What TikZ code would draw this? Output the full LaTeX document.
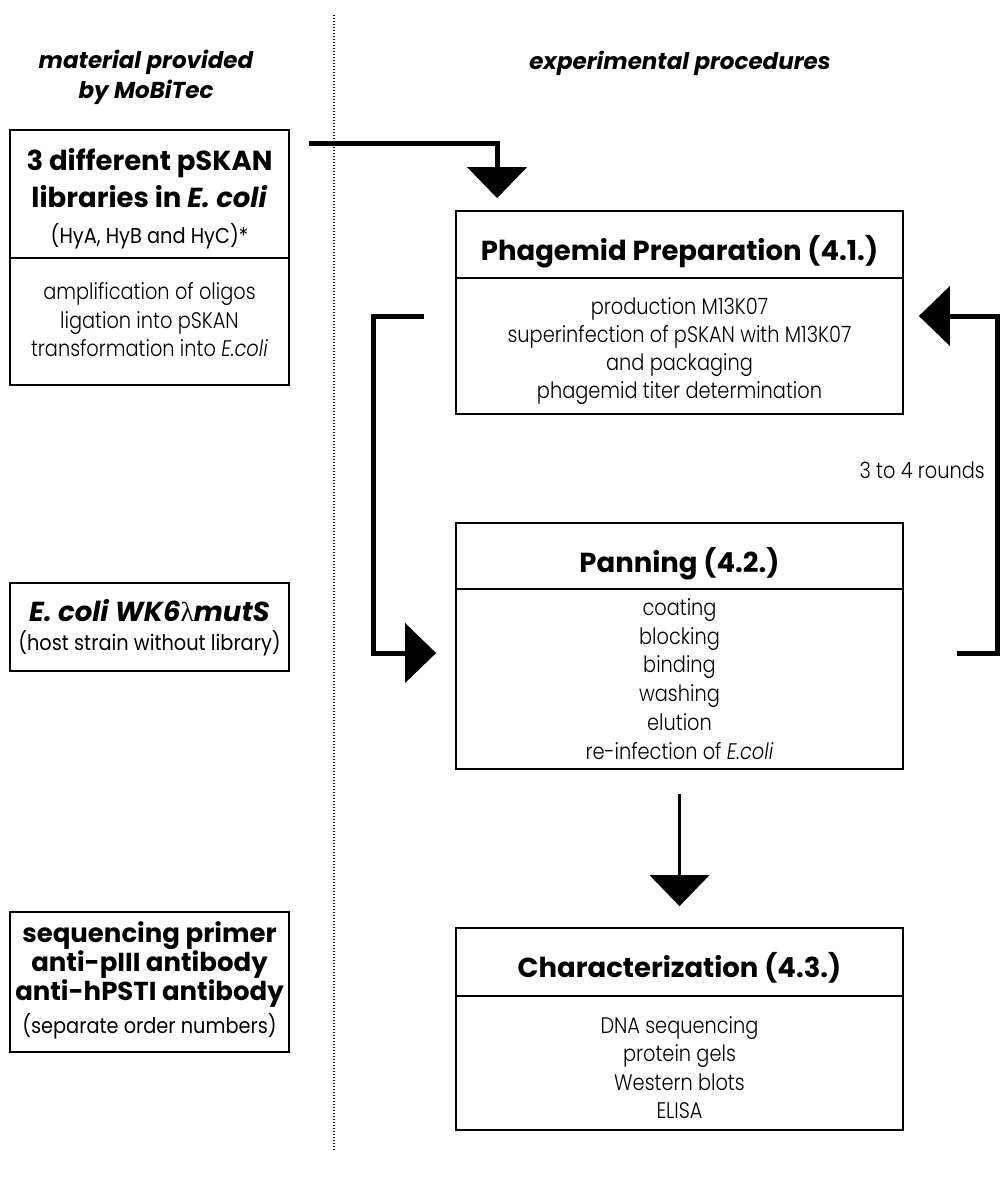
\documentclass[tikz,border=0pt]{standalone}
\usepackage{fontspec}
\setmainfont{Poppins}[FakeStretch=0.86, UprightFont=* Light, ItalicFont=* Light Italic, BoldFont=* Bold, BoldItalicFont=* Bold Italic]
\newfontfamily\bookf{Poppins}[FakeStretch=0.9]
\newfontfamily\heavyf{Poppins}[UprightFont=* Bold, ItalicFont=* Bold Italic]
\newfontfamily\greekf{Liberation Serif}
\usetikzlibrary{arrows.meta,calc}
\newcommand\myttl{\fontsize{27.5}{30}\selectfont\heavyf}
\newcommand\mysmttl{\fontsize{26}{29}\selectfont\heavyf}
\newcommand\mysub{\fontsize{21.5}{26}\selectfont\bookf}
\newcommand\mybody{\fontsize{22.5}{28}\selectfont\mdseries}
\newcommand\myhead{\fontsize{23}{29}\selectfont\heavyf\itshape}
\begin{document}
\begin{tikzpicture}[x=1pt,y=-1pt,
  box/.style={draw, line width=1.8pt, inner sep=0, minimum width=279pt},
  rbox/.style={draw, line width=1.8pt, inner sep=0, minimum width=447pt},
  divl/.style={line width=1.8pt},
  txt/.style={inner sep=0, anchor=base},
  ttl/.style={txt, font=\myttl},
  sttl/.style={txt, font=\mysmttl},
  sub/.style={txt, font=\mysub},
  bdy/.style={txt, font=\mybody},
  hd/.style={txt, font=\myhead},
  conn/.style={line width=5pt, line join=miter, -{Triangle[width=60pt,length=31pt,line width=0pt]}}
]
\useasboundingbox (0,0) rectangle (1000,1179);
% separator
\coordinate (dtop) at (334,15);
\coordinate (dbot) at (334,1151);
\draw[line width=1.3pt, dash pattern=on 1.3pt off 1.7pt] (dtop) -- (dbot);

% headers
\node[hd] (hdrL1) at (146,68) {material provided};
\node[hd] (hdrL2) at (146,98) {by MoBiTec};
\node[hd] (hdrR) at (680,69) {experimental procedures};

% left boxes
\node[box, minimum height=255pt] (lib) at (149.5,257.5) {};
\draw[divl] (lib.west |- 0,258) -- (lib.east |- 0,258);
\node[ttl] (libT1) at (149.5,170) {3 different pSKAN};
\node[ttl] (libT2) at (149.5,207) {libraries in \textit{E. coli}};
\node[sub] (libS) at (149.5,243) {(HyA, HyB and HyC)*};
\node[bdy] (libB1) at (149.5,299) {amplification of oligos};
\node[bdy] (libB2) at (149.5,328) {ligation into pSKAN};
\node[bdy] (libB3) at (149.5,356) {transformation into \textit{E.coli}};

\node[box, minimum height=88pt] (host) at (149.5,627) {};
\node[ttl] (hostT) at (149.5,621) {\itshape E. coli WK6{\greekf\mdseries\upshape λ}mutS};
\node[sub] (hostS) at (149.5,650) {(host strain without library)};

\node[box, minimum height=140pt] (misc) at (149.5,982) {};
\node[sttl] (misc1) at (149.5,942) {sequencing primer};
\node[sttl] (misc2) at (149.5,971) {anti-pIII antibody};
\node[sttl] (misc3) at (149.5,1000) {anti-hPSTI antibody};
\node[sub] (miscS) at (149.5,1033) {(separate order numbers)};

% right boxes
\node[rbox, minimum height=203pt] (phag) at (679.5,312.5) {};
\draw[divl] (phag.west |- 0,278) -- (phag.east |- 0,278);
\node[ttl] (phagT) at (679.5,260) {Phagemid Preparation (4.1.)};
\node[bdy] (phagB1) at (679.5,314) {production M13K07};
\node[bdy] (phagB2) at (679.5,342) {superinfection of pSKAN with M13K07};
\node[bdy] (phagB3) at (679.5,370) {and packaging};
\node[bdy] (phagB4) at (679.5,398) {phagemid titer determination};

\node[rbox, minimum height=246pt] (pan) at (679.5,646) {};
\draw[divl] (pan.west |- 0,589) -- (pan.east |- 0,589);
\node[ttl] (panT) at (679.5,572) {Panning (4.2.)};
\node[bdy] (panB1) at (679.5,615) {coating};
\node[bdy] (panB2) at (679.5,644) {blocking};
\node[bdy] (panB3) at (679.5,672) {binding};
\node[bdy] (panB4) at (679.5,701) {washing};
\node[bdy] (panB5) at (679.5,730) {elution};
\node[bdy] (panB6) at (679.5,759) {re-infection of \textit{E.coli}};

\node[rbox, minimum height=202pt] (char) at (679.5,1029) {};
\draw[divl] (char.west |- 0,996) -- (char.east |- 0,996);
\node[ttl] (charT) at (679.5,977) {Characterization (4.3.)};
\node[bdy] (charB1) at (679.5,1033) {DNA sequencing};
\node[bdy] (charB2) at (679.5,1061) {protein gels};
\node[bdy] (charB3) at (679.5,1090) {Western blots};
\node[bdy] (charB4) at (679.5,1118) {ELISA};

\node[bdy, anchor=base east] (rounds) at (985,478) {3 to 4 rounds};

% connectors
\coordinate (a1s) at (309,143);
\coordinate (a1e) at ($(phag.north west)+(42,-12)$);
\draw[conn] (a1s) -| (a1e);

\coordinate (l1s) at (424,316);
\coordinate (l1c) at (373,316);
\coordinate (l1e) at ($(pan.west)+(-19,7)$);
\draw[conn] (l1s) -- (l1c) |- (l1e);

\coordinate (r1s) at (957,653);
\coordinate (r1c) at (997,653);
\coordinate (r1e) at ($(phag.east)+(15,3.5)$);
\draw[conn] (r1s) -- (r1c) |- (r1e);

\coordinate (d1s) at ($(pan.south)+(0,24)$);
\coordinate (d1e) at ($(char.north)+(0,-21)$);
\draw[conn, line width=3pt] (d1s) -- (d1e);
\end{tikzpicture}
\end{document}
